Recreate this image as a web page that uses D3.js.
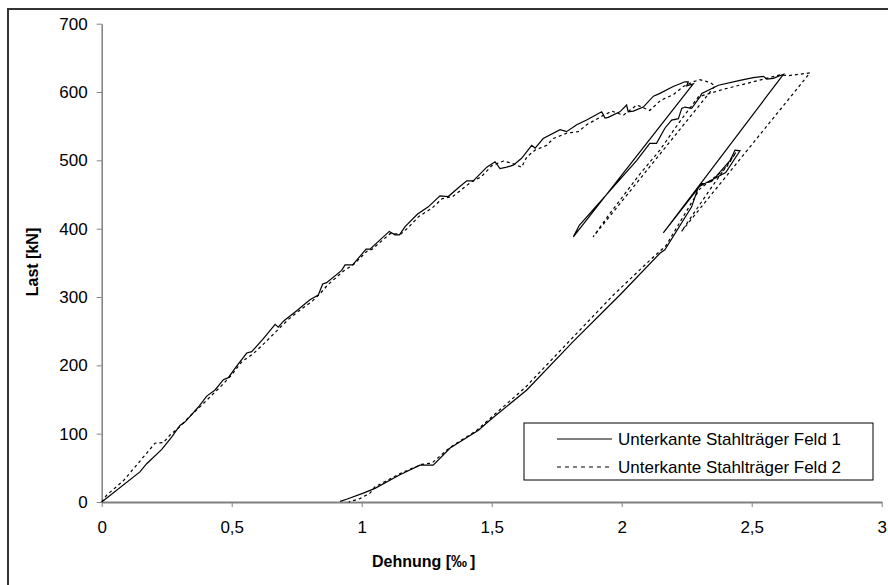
<!DOCTYPE html>
<html lang="de">
<head>
<meta charset="utf-8">
<title>Last-Dehnungs-Diagramm</title>
<script src="https://cdnjs.cloudflare.com/ajax/libs/d3/7.8.5/d3.min.js"></script>
<style>
  body { margin: 0; background: #fff; }
  svg { display: block; font-family: "Liberation Sans", Arial, sans-serif; }
  .tick text { font-size: 17px; fill: #000; }
  .axis path, .axis line { stroke: #808080; }
</style>
</head>
<body>
<svg id="chart" width="888" height="585"></svg>
<script>
// Unterkante Stahltraeger Feld 1 (durchgezogen)
var strain1 = [0, 0.147, 0.173, 0.231, 0.269, 0.301, 0.320, 0.372, 0.404, 0.436, 0.468, 0.487, 0.519, 0.558, 0.577, 0.622, 0.667, 0.679,
  0.70, 0.75, 0.801, 0.833, 0.850, 0.865, 0.923, 0.936, 0.965, 1.017, 1.032, 1.106, 1.128, 1.145, 1.167, 1.214, 1.256, 1.301, 1.333,
  1.372, 1.404, 1.429, 1.481, 1.513, 1.532, 1.558, 1.583, 1.615, 1.654, 1.667, 1.698, 1.763, 1.788, 1.827, 1.865, 1.923, 1.936, 1.948,
  1.993, 2.019, 2.025, 2.045, 2.083, 2.122, 2.147, 2.198, 2.243, 2.256, 2.250, 2.275,
  1.814,
  1.837, 2.058, 2.108, 2.134, 2.166, 2.192, 2.218, 2.231, 2.243, 2.269, 2.301, 2.308, 2.372, 2.455, 2.506, 2.545, 2.558, 2.583, 2.622,
  2.160,
  2.308, 2.346, 2.417, 2.436, 2.455,
  2.400, 2.295, 2.269, 2.166, 2.147, 1.993, 1.814, 1.635, 1.494, 1.449, 1.340, 1.275, 1.224, 1.147, 1.051, 1.006, 0.942, 0.917];
var load1 = [0, 44, 56, 77, 95, 112, 117, 139, 155, 164, 179, 182, 199, 218, 220, 239, 260, 256,
  265, 280, 296, 303, 319, 321, 339, 347, 347, 370, 370, 396, 391, 391, 403, 421, 432, 448, 447,
  460, 470, 470, 490, 498, 488, 490, 493, 503, 522, 518, 532, 545, 542, 552, 559, 571, 562, 563,
  571, 581, 571, 572, 578, 594, 598, 608, 615, 615, 609, 612,
  388,
  405, 500, 525, 525, 547, 559, 561, 576, 578, 576, 593, 598, 610, 617, 621, 623, 619, 620, 626,
  394,
  466, 469, 500, 515, 514,
  482, 461, 432, 369, 364, 303, 235, 164, 120, 105, 79, 54, 54, 40, 20, 13, 4, 1];

// Unterkante Stahltraeger Feld 2 (gepunktet)
var strain2 = [0, 0.019, 0.083, 0.141, 0.205, 0.237, 0.263, 0.30, 0.34, 0.38, 0.42, 0.46, 0.50, 0.54, 0.58, 0.63, 0.672, 0.72,
  0.77, 0.81, 0.84, 0.87, 0.93, 0.97, 1.02, 1.04, 1.11, 1.15, 1.18, 1.22, 1.27, 1.31, 1.35, 1.38, 1.42, 1.46, 1.50, 1.545,
  1.577, 1.615, 1.635, 1.667, 1.712, 1.737, 1.79, 1.833, 1.865, 1.93, 1.962, 2.006, 2.058, 2.108, 2.15, 2.198, 2.237, 2.275,
  2.301, 2.340, 2.359,
  1.890,
  1.95, 2.07, 2.147, 2.22, 2.295, 2.391, 2.506, 2.609, 2.641, 2.724,
  2.23,
  2.33, 2.44,
  2.40, 2.30, 2.17, 2.109, 1.968, 1.80, 1.63, 1.49, 1.44, 1.34, 1.27, 1.23, 1.15, 1.05, 1.032, 0.993, 0.95];
var load2 = [0, 10, 31, 57, 86, 87, 98, 110, 126, 140, 155, 170, 186, 206, 216, 234, 250, 268,
  283, 294, 305, 318, 338, 348, 367, 370, 393, 392, 402, 418, 430, 444, 447, 456, 468, 476, 492, 499,
  496, 490, 505, 515, 522, 532, 540, 542, 552, 566, 572, 566, 581, 573, 588, 596, 608, 615,
  618, 614, 609,
  388,
  420, 480, 515, 555, 593, 604, 615, 625, 624, 628,
  396,
  452, 512,
  488, 458, 375, 354, 303, 236, 168, 121, 104, 80, 57, 55, 42, 22, 13, 5, 0];

var xTicks = [0, 0.5, 1, 1.5, 2, 2.5, 3];
var yTicks = [0, 100, 200, 300, 400, 500, 600, 700];
var seriesNames = ["Unterkante Stahlträger Feld 1", "Unterkante Stahlträger Feld 2"];
var dashes = [null, "3,3"];

var svg = d3.select("#chart");

// outer frame (right and bottom edge lie outside the picture)
svg.append("rect")
  .attr("x", 8).attr("y", 9)
  .attr("width", 900).attr("height", 600)
  .attr("fill", "none").attr("stroke", "#333").attr("stroke-width", 2);

var x = d3.scaleLinear().domain([0, 3]).range([101.7, 881.7]);
var y = d3.scaleLinear().domain([0, 700]).range([502, 23.7]);

var fmt = d => String(d).replace(".", ",");

svg.append("g")
  .attr("class", "axis")
  .attr("transform", "translate(0,502)")
  .call(d3.axisBottom(x).tickValues(xTicks).tickFormat(fmt).tickSizeInner(5).tickSizeOuter(0).tickPadding(14))
  .call(g => g.select(".domain").attr("stroke-width", 2));

svg.append("g")
  .attr("class", "axis")
  .attr("transform", "translate(101.7,0)")
  .call(d3.axisLeft(y).tickValues(yTicks).tickFormat(fmt).tickSizeInner(5).tickSizeOuter(0).tickPadding(9))
  .call(g => g.select(".domain").attr("stroke-width", 1.5));

svg.selectAll(".tick text").attr("font-family", null);

// axis titles
var xTitle = svg.append("text")
  .attr("y", 567)
  .style("font-size", "16px").style("font-weight", "bold");
xTitle.append("tspan").attr("x", 372).text("Dehnung [‰");
xTitle.append("tspan").attr("x", 470).text("]");

svg.append("text")
  .attr("transform", "translate(38,262) rotate(-90)")
  .attr("text-anchor", "middle")
  .style("font-size", "16px").style("font-weight", "bold")
  .text("Last [kN]");

// curves
var line = d3.line().x(d => x(d[0])).y(d => y(d[1]));
var curves = [d3.zip(strain1, load1), d3.zip(strain2, load2)];

svg.append("g")
  .selectAll("path")
  .data(curves)
  .enter()
  .append("path")
  .attr("d", line)
  .attr("fill", "none")
  .attr("stroke", "#000")
  .attr("stroke-width", 1.2)
  .attr("stroke-dasharray", (d, i) => dashes[i]);

// legend
var legend = svg.append("g");
legend.append("rect")
  .attr("x", 524).attr("y", 423)
  .attr("width", 349).attr("height", 57)
  .attr("fill", "#fff").attr("stroke", "#000").attr("stroke-width", 1);

var rows = legend.selectAll("g.row")
  .data(seriesNames)
  .enter()
  .append("g")
  .attr("class", "row")
  .attr("transform", (d, i) => "translate(0," + (439 + i * 28) + ")");

rows.append("line")
  .attr("x1", 557).attr("x2", 612)
  .attr("stroke", "#000").attr("stroke-width", 1.2)
  .attr("stroke-dasharray", (d, i) => dashes[i] ? "4,4" : null);

rows.append("text")
  .attr("x", 618).attr("dy", "0.35em")
  .style("font-size", "17px")
  .text(d => d);
</script>
</body>
</html>
